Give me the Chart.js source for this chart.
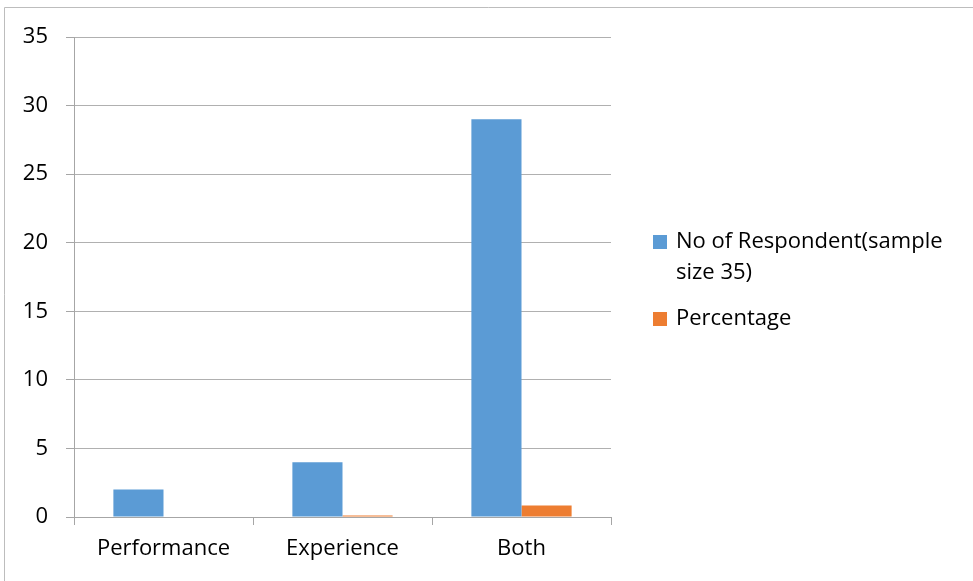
<!DOCTYPE html>
<html>
<head>
<meta charset="utf-8">
<script src="https://cdn.jsdelivr.net/npm/chart.js@4.4.1/dist/chart.umd.min.js"></script>
<style>
  html, body { margin: 0; padding: 0; background: #fff; }
  #wrap { position: relative; width: 973px; height: 581px; }
</style>
</head>
<body>
<div id="wrap"><canvas id="chart" width="973" height="581"></canvas></div>
<script>
const categories = ["Performance", "Experience", "Both"];
const respondents = [2, 4, 29];
const percentages = [0, 0.11, 0.83];
const seriesLabels = [["No of Respondent(sample", "size 35)"], ["Percentage"]];
const yTicks = [0, 5, 10, 15, 20, 25, 30, 35];

const FONT = "'Open Sans', 'Noto Sans', sans-serif";

// draws the outer frame and the wrapped legend on the right
const decorPlugin = {
  id: "decor",
  afterDraw(chart) {
    const ctx = chart.ctx;
    ctx.save();
    ctx.strokeStyle = "#bdbdbd";
    ctx.lineWidth = 1;
    ctx.beginPath();
    ctx.moveTo(4.5, 581);
    ctx.lineTo(4.5, 7.5);
    ctx.lineTo(973, 7.5);
    ctx.stroke();

    ctx.font = "22px " + FONT;
    ctx.textBaseline = "middle";
    ctx.fillStyle = "#000";
    let y = 242;
    chart.data.datasets.forEach((ds) => {
      ctx.fillStyle = ds.backgroundColor;
      ctx.fillRect(653, y - 7, 14, 14);
      ctx.fillStyle = "#000";
      const lines = Array.isArray(ds.label) ? ds.label : [ds.label];
      lines.forEach((line, i) => {
        ctx.fillText(line, 676, y + i * 31);
      });
      y += lines.length * 31 + 15;
    });
    ctx.restore();
  },
};

new Chart(document.getElementById("chart"), {
  type: "bar",
  data: {
    labels: categories,
    datasets: [
      {
        label: seriesLabels[0],
        data: respondents,
        backgroundColor: "#5b9bd5",
        categoryPercentage: 0.56,
        barPercentage: 1,
      },
      {
        label: seriesLabels[1],
        data: percentages,
        backgroundColor: "#ed7d31",
        categoryPercentage: 0.56,
        barPercentage: 1,
      },
    ],
  },
  options: {
    responsive: false,
    animation: false,
    layout: {
      padding: { left: 0, top: 37, right: 362, bottom: 0 },
    },
    plugins: {
      legend: { display: false },
      tooltip: { enabled: false },
    },
    scales: {
      x: {
        afterFit: (scale) => { scale.height = 64; },
        grid: {
          display: true,
          drawOnChartArea: false,
          offset: true,
          color: "#a6a6a6",
          tickLength: 8,
        },
        border: { color: "#a6a6a6" },
        ticks: {
          color: "#000",
          padding: 11,
          font: { family: FONT, size: 22 },
        },
      },
      y: {
        min: 0,
        max: 35,
        afterFit: (scale) => { scale.width = 74; },
        afterBuildTicks: (scale) => {
          scale.ticks = yTicks.map((v) => ({ value: v }));
        },
        grid: {
          color: "#b0b0b0",
          tickLength: 8,
          tickColor: "#a6a6a6",
        },
        border: { color: "#a6a6a6" },
        ticks: {
          color: "#000",
          padding: 18,
          font: { family: FONT, size: 22 },
        },
      },
    },
  },
  plugins: [decorPlugin],
});
</script>
</body>
</html>
